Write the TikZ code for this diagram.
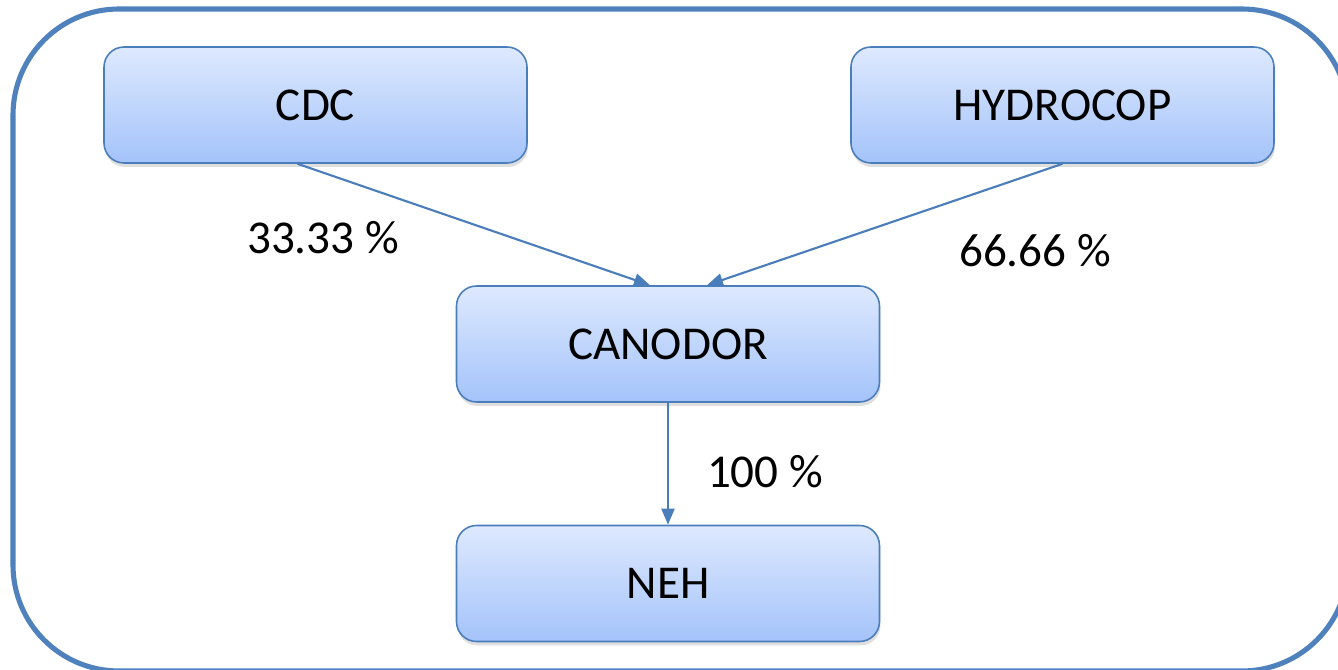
\documentclass[tikz,border=0pt]{standalone}
\usepackage{fontspec}
\setmainfont{Carlito}
\usetikzlibrary{arrows.meta,shadows}
\definecolor{boxline}{HTML}{4A7EBB}
\definecolor{boxtop}{HTML}{DEE9FE}
\definecolor{boxbot}{HTML}{A4C3FA}
\definecolor{frameline}{HTML}{4F81BD}
\tikzset{
  entity/.style={draw=boxline, line width=0.45pt, rounded corners=0.2cm,
    top color=boxtop, bottom color=boxbot,
    drop shadow={shadow xshift=0.01cm, shadow yshift=-0.04cm, opacity=0.25},
    minimum width=4.23cm, minimum height=1.16cm, inner sep=0pt,
    font=\fontsize{13.4}{16}\selectfont},
  share/.style={draw=boxline, line width=0.6pt, -{Triangle[length=0.16cm,width=0.13cm]}},
  pct/.style={font=\fontsize{13.4}{16}\selectfont}
}
\begin{document}
\begin{tikzpicture}[x=1cm,y=1cm]
\useasboundingbox (0,0) rectangle (13.38,-6.70);
\clip (0,0) rectangle (13.38,-6.70);
\draw[frameline, line width=1.45pt, rounded corners=1.06cm] (0.13,-0.09) rectangle (13.48,-6.71);
\node[entity] (cdc) at (3.155,-1.05) {CDC};
\node[entity] (hydrocop) at (10.625,-1.05) {HYDROCOP};
\node[entity] (canodor) at (6.68,-3.44) {CANODOR};
\node[entity] (neh) at (6.68,-5.835) {NEH};
\draw[share] ([xshift=-0.18cm]cdc.south) -- ([xshift=-0.18cm]canodor.north);
\draw[share] (hydrocop.south) -- ([xshift=0.39cm]canodor.north);
\draw[share] (canodor) -- (neh);
\node[pct] (pcdc) at (3.23,-2.38) {33.33 \%};
\node[pct] (phydrocop) at (10.35,-2.51) {66.66 \%};
\node[pct] (pcanodor) at (7.65,-4.72) {100 \%};
\end{tikzpicture}
\end{document}
